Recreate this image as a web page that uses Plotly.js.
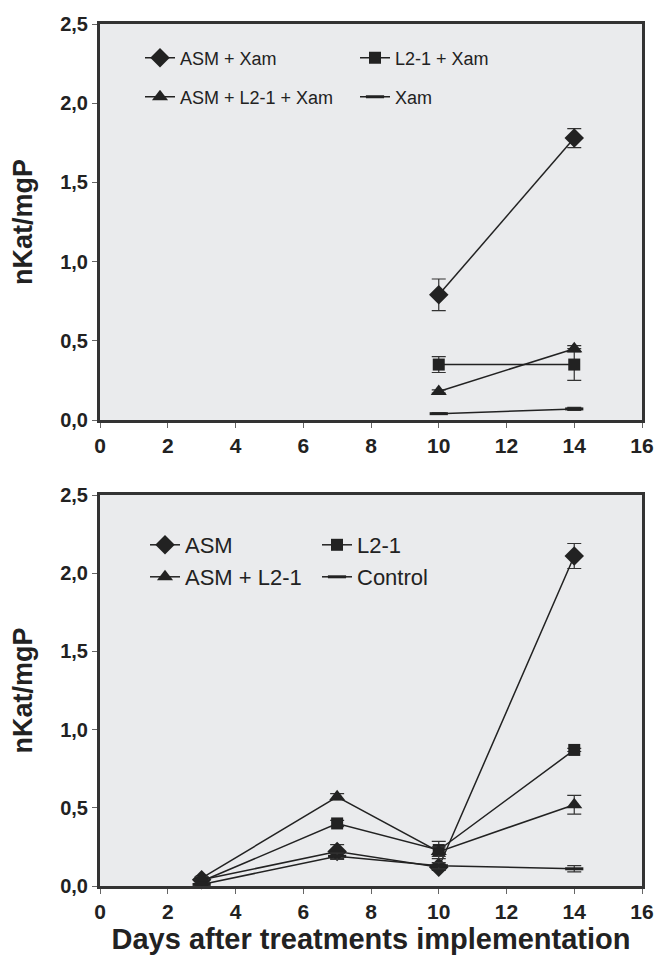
<!DOCTYPE html>
<html><head><meta charset="utf-8">
<script src="https://cdn.plot.ly/plotly-3.0.1.min.js"></script>
<style>html,body{margin:0;padding:0;background:#fff}</style>
</head><body><div id="chart" style="width:670px;height:956px"></div>
<script>
// ---- data: top panel (with Xam) ----
var daysTop = [10, 14];
var asmXam = [0.79, 1.78];
var asmXamErr = [0.10, 0.06];
var l21Xam = [0.35, 0.35];
var l21XamErr = [0.05, 0.10];
var asmL21Xam = [0.18, 0.45];
var asmL21XamErr = [0.01, 0.02];
var xam = [0.04, 0.07];
var xamErr = [0.005, 0.01];
var namesTop = ['ASM + Xam', 'L2-1 + Xam', 'ASM + L2-1 + Xam', 'Xam'];

// ---- data: bottom panel ----
var daysBottom = [3, 7, 10, 14];
var asm = [0.04, 0.22, 0.12, 2.11];
var asmErr = [0.01, 0.045, 0.02, 0.08];
var l21 = [0.03, 0.40, 0.23, 0.87];
var l21Err = [0.01, 0.02, 0.055, 0.01];
var asmL21 = [0.05, 0.57, 0.22, 0.52];
var asmL21Err = [0.01, 0.02, 0.03, 0.06];
var control = [0.01, 0.19, 0.13, 0.11];
var controlErr = [0.005, 0.02, 0.02, 0.02];
var namesBottom = ['ASM', 'L2-1', 'ASM + L2-1', 'Control'];

var xTicks = [0, 2, 4, 6, 8, 10, 12, 14, 16];
var yTicks = [0, 0.5, 1.0, 1.5, 2.0, 2.5];
var yTickText = ['0,0', '0,5', '1,0', '1,5', '2,0', '2,5'];

var ink = '#222';
var symbols = ['diamond', 'square', 'triangle-up', 'line-ew'];
var sizes = [15, 12, 14, 13];

function mk(x, y, err, name, i, xa, ya, leg) {
  return {
    x: x, y: y, name: name, type: 'scatter', mode: 'lines+markers',
    xaxis: xa, yaxis: ya, legend: leg, showlegend: true, cliponaxis: false,
    line: {color: ink, width: 1.5},
    marker: {symbol: symbols[i], size: sizes[i], color: ink,
             line: {color: ink, width: i === 3 ? 3 : 0}},
    error_y: {type: 'data', array: err, visible: true, color: '#333', thickness: 1.2, width: 7}
  };
}

var data = [
  mk(daysTop, asmXam, asmXamErr, namesTop[0], 0, 'x', 'y', 'legend'),
  mk(daysTop, l21Xam, l21XamErr, namesTop[1], 1, 'x', 'y', 'legend2'),
  mk(daysTop, asmL21Xam, asmL21XamErr, namesTop[2], 2, 'x', 'y', 'legend3'),
  mk(daysTop, xam, xamErr, namesTop[3], 3, 'x', 'y', 'legend4'),
  mk(daysBottom, asm, asmErr, namesBottom[0], 0, 'x2', 'y2', 'legend5'),
  mk(daysBottom, l21, l21Err, namesBottom[1], 1, 'x2', 'y2', 'legend6'),
  mk(daysBottom, asmL21, asmL21Err, namesBottom[2], 2, 'x2', 'y2', 'legend7'),
  mk(daysBottom, control, controlErr, namesBottom[3], 3, 'x2', 'y2', 'legend8')
];

var fam = 'Liberation Sans, Arial, sans-serif';
var xTickFont = {family: fam, size: 21, weight: 'bold', color: ink};
var yTickFont = {family: fam, size: 20, weight: 'bold', color: ink};
function xax(anchor, withTitle) {
  var a = {anchor: anchor, domain: [0, 1], range: [0, 16], tickvals: xTicks,
    ticks: 'outside', ticklen: 5, tickcolor: '#666', tickwidth: 1,
    showline: true, linewidth: 3, linecolor: '#333', mirror: true,
    showgrid: false, zeroline: false, tickfont: xTickFont, fixedrange: true};
  if (withTitle) a.title = {text: 'Days after treatments implementation',
    font: {family: fam, size: 29, weight: 'bold', color: ink}, standoff: 6};
  return a;
}
function yax(anchor, dom) {
  return {anchor: anchor, domain: dom, range: [0, 2.5], tickvals: yTicks, ticktext: yTickText,
    ticks: 'outside', ticklen: 5, tickcolor: '#666', tickwidth: 1,
    showline: true, linewidth: 3, linecolor: '#333', mirror: true,
    showgrid: false, zeroline: false, tickfont: yTickFont, fixedrange: true,
    title: {text: 'nKat/mgP', font: {family: fam, size: 27, weight: 'bold', color: ink}, standoff: 20}};
}

var W = 670, H = 956, mL = 100, mR = 28, mT = 24, mB = 70;
var pw = W - mL - mR, ph = H - mT - mB;
function px(v) { return (v - mL) / pw; }
function py(v) { return (H - mB - v) / ph; }
function leg(x, y, size) {
  return {x: px(x), y: py(y), xanchor: 'left', yanchor: 'middle', bgcolor: 'rgba(0,0,0,0)',
    borderwidth: 0, font: {family: fam, size: size, color: ink}, tracegroupgap: 0};
}

var layout = {
  width: W, height: H, margin: {l: mL, r: mR, t: mT, b: mB},
  paper_bgcolor: '#fff', plot_bgcolor: '#eaebed', separators: ', ', showlegend: true,
  xaxis: xax('y', false), yaxis: yax('x', [py(420), 1]),
  xaxis2: xax('y2', true), yaxis2: yax('x2', [0, py(495)]),
  legend: leg(140, 58, 18), legend2: leg(355, 58, 18),
  legend3: leg(140, 97, 18), legend4: leg(355, 97, 18),
  legend5: leg(145, 545, 22), legend6: leg(317, 545, 22),
  legend7: leg(145, 577, 22), legend8: leg(317, 577, 22)
};

Plotly.newPlot('chart', data, layout, {displayModeBar: false, staticPlot: true});
</script></body></html>
